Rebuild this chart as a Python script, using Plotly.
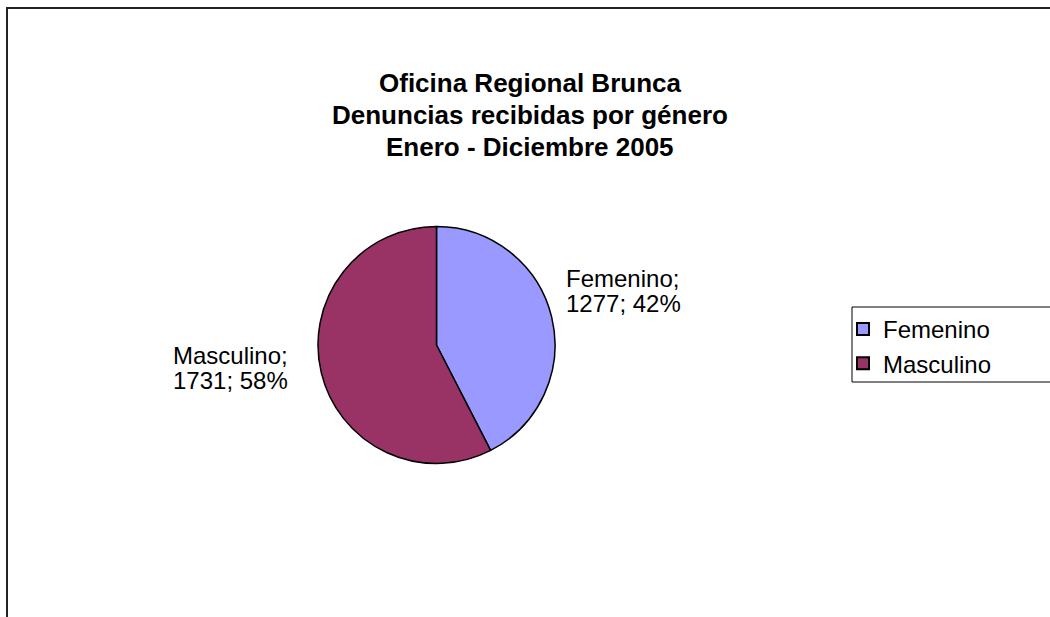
import plotly.graph_objects as go

W, H = 1050, 617
labels = ["Femenino", "Masculino"]
values = [1277, 1731]
colors = ["#9999FF", "#993366"]
title_lines = ["Oficina Regional Brunca", "Denuncias recibidas por género", "Enero - Diciembre 2005"]

FONT = "Liberation Sans, Arial, sans-serif"


def px_x(x):
    return x / W


def px_y(y):
    return 1 - y / H


total = sum(values)
pcts = [round(v / total * 100) for v in values]

fig = go.Figure()
fig.add_trace(go.Pie(
    labels=labels,
    values=values,
    sort=False,
    direction="clockwise",
    rotation=0,
    marker=dict(colors=colors, line=dict(color="black", width=1.5)),
    textinfo="none",
    hoverinfo="label+value+percent",
    domain=dict(x=[px_x(318), px_x(555)], y=[px_y(463.5), px_y(226.5)]),
    showlegend=True,
))

# Title lines (tight line spacing like the original)
for i, t in enumerate(title_lines):
    fig.add_annotation(
        x=px_x(530), y=px_y(83 + 32 * i), xref="paper", yref="paper",
        text=f"<b>{t}</b>", showarrow=False, xanchor="center", yanchor="middle",
        font=dict(family=FONT, size=26, color="black"),
    )

# Data labels: two lines each
label_pos = [
    dict(x=564, y=278, xanchor="left"),
    dict(x=230, y=355, xanchor="center"),
]
for lab, val, pct, pos in zip(labels, values, pcts, label_pos):
    for j, line in enumerate([f"{lab};", f"{val}; {pct}%"]):
        fig.add_annotation(
            x=px_x(pos["x"]), y=px_y(pos["y"] + 25 * j), xref="paper", yref="paper",
            text=line, showarrow=False, xanchor=pos["xanchor"], yanchor="middle",
            font=dict(family=FONT, size=24, color="black"),
        )

# Chart border
fig.add_shape(type="rect", xref="paper", yref="paper",
              x0=px_x(7), x1=px_x(1070), y0=px_y(640), y1=px_y(8),
              line=dict(color="#222222", width=2), fillcolor="rgba(0,0,0,0)")
# Legend box
fig.add_shape(type="rect", xref="paper", yref="paper",
              x0=px_x(852), x1=px_x(1070), y0=px_y(382), y1=px_y(307),
              line=dict(color="black", width=1), fillcolor="rgba(0,0,0,0)")

fig.update_layout(
    width=W, height=H,
    margin=dict(l=0, r=0, t=0, b=0),
    paper_bgcolor="white", plot_bgcolor="white",
    font=dict(family=FONT, color="black"),
    legend=dict(
        x=px_x(843), y=px_y(307), xanchor="left", yanchor="top",
        bgcolor="rgba(0,0,0,0)", borderwidth=0,
        font=dict(family=FONT, size=24, color="black"),
        itemsizing="constant",
    ),
)

fig.write_html(
    "out.html",
    config={"displayModeBar": False},
    post_script="document.body.style.margin='0';document.body.style.overflow='hidden';",
)
